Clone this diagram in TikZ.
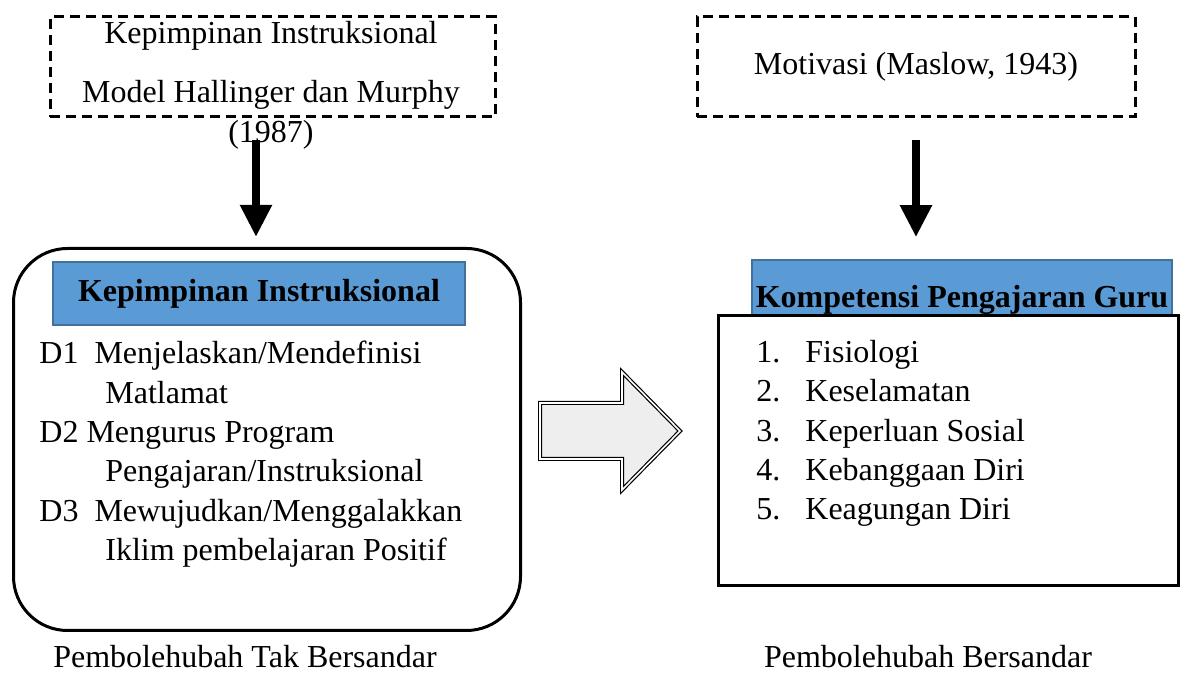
\documentclass[tikz,border=0pt]{standalone}
\usepackage{fontspec}
\setmainfont{Liberation Serif}
\usepackage{xcolor}
\usepackage{tikz}
\usetikzlibrary{shapes.geometric, arrows.meta, positioning, calc}
\definecolor{headblue}{RGB}{91, 155, 213}
\definecolor{headedge}{RGB}{65, 113, 156}
\definecolor{arrowgrey}{RGB}{238, 238, 238}
\newcommand{\bodyfont}{\fontsize{16}{19.65}\selectfont}

\tikzset{
    bodytext/.style={font=\bodyfont},
    srcbox/.style={draw, line width=1.5pt, dash pattern=on 5pt off 3pt,
          minimum height=50pt, font=\bodyfont},
    headbox/.style={fill=headblue, draw=headedge, line width=0.75pt,
          font=\bodyfont\bfseries},
    downarrow/.style={line width=4pt, -{Triangle[width=15pt, length=16pt]}},
    bigarrow/.style={fill=arrowgrey, draw, line width=0.6pt, double=white,
          double distance=0.8pt, line join=miter}
}

\begin{document}
\begin{tikzpicture}[x=0.5pt, y=-0.5pt]
    \useasboundingbox (0,0) rectangle (1185,683);

    \node[srcbox, minimum width=222.5pt] (hallinger) at (272.5,67) {};
    \node[bodytext, anchor=north, align=center, inner sep=0pt] (hallingertext) at (271,21) {
        Kepimpinan Instruksional\\[10pt]
        Model Hallinger dan Murphy\\
        (1987)
    };
    \node[srcbox, minimum width=219pt] (motivasi) at (916,67) {Motivasi (Maslow, 1943)};

    \node[draw, line width=1.5pt, rounded corners=27pt, minimum width=253.5pt,
          minimum height=191pt] (kepbox) at (267,439.5) {};
    \node[headbox, minimum width=206pt, minimum height=31.5pt] (kephead) at (259,293.5) {Kepimpinan Instruksional};
    \node[bodytext, anchor=north west, align=left, inner sep=0pt] (keplist) at (39,341) {
        D1\ \ Menjelaskan/Mendefinisi\\
        \hspace*{33pt}Matlamat\\
        D2 Mengurus Program\\
        \hspace*{33pt}Pengajaran/Instruksional\\
        D3\ \ Mewujudkan/Menggalakkan\\
        \hspace*{33pt}Iklim pembelajaran Positif
    };

    \draw[bigarrow] (540,403) -- (622,403) -- (622,372) -- (680,431)
        -- (622,490) -- (622,459) -- (540,459) -- cycle;

    \node[headbox, minimum width=205pt, minimum height=28pt, text height=20pt,
          text depth=0pt, inner sep=2pt] (kpghead) at (962,288) {Kompetensi Pengajaran Guru};
    \node[draw, line width=1.5pt, minimum width=230pt, minimum height=135pt] (kpgbox) at (948.5,450.5) {};
    \node[bodytext, anchor=north west, align=left, inner sep=0pt] (kpglist) at (756,340) {
        \makebox[24.5pt][l]{1.}Fisiologi\\
        \makebox[24.5pt][l]{2.}Keselamatan\\
        \makebox[24.5pt][l]{3.}Keperluan Sosial\\
        \makebox[24.5pt][l]{4.}Kebanggaan Diri\\
        \makebox[24.5pt][l]{5.}Keagungan Diri
    };

    \node[bodytext] (ivlabel) at (245,657) {Pembolehubah Tak Bersandar};
    \node[bodytext] (dvlabel) at (928,657) {Pembolehubah Bersandar};

    \coordinate (hallingerfoot) at (256,140);
    \coordinate (motivasifoot) at (916,140);
    \draw[downarrow, shorten >=5pt] (hallingerfoot) -- (hallingerfoot |- kepbox.north);
    \draw[downarrow, shorten >=11pt] (motivasifoot) -- (motivasifoot |- kpghead.north);
\end{tikzpicture}
\end{document}
